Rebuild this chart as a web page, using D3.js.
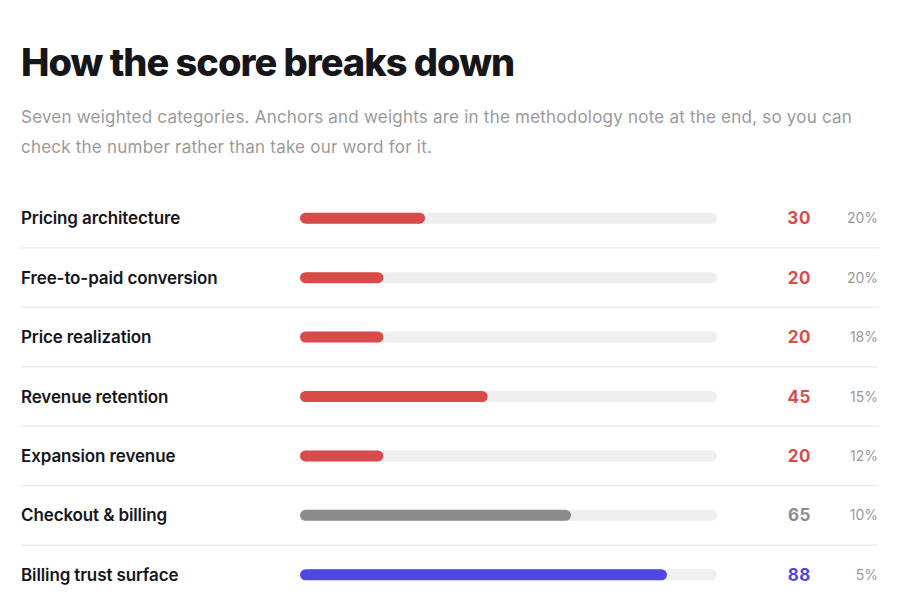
<!DOCTYPE html>
<html><head><meta charset="utf-8">
<script src="https://cdn.jsdelivr.net/npm/d3@7/dist/d3.min.js"></script>
<style>
html,body{margin:0;padding:0;background:#fff;}
svg{display:block;font-family:Inter,"Noto Sans",sans-serif;}
</style></head>
<body>
<svg id="chart" width="900" height="597"></svg>
<script>
const title = "How the score breaks down";
const subtitleLines = ["Seven weighted categories. Anchors and weights are in the methodology note at the end, so you can", "check the number rather than take our word for it."];
const categories = ["Pricing architecture","Free-to-paid conversion","Price realization","Revenue retention","Expansion revenue","Checkout & billing","Billing trust surface"];
const scores = [30,20,20,45,20,65,88];
const weights = ["20%","20%","18%","15%","12%","10%","5%"];

const svg = d3.select("#chart");
const left = 21, right = 879;
const colorFor = v => v >= 80 ? "#4f46e5" : (v >= 50 ? "#8c8c8c" : "#d94b4b");

svg.append("text").attr("x", left).attr("y", 76)
  .attr("font-size", 38).attr("font-weight", 800).attr("fill", "#16161a")
  .attr("letter-spacing", "-1.0").text(title);

svg.selectAll("text.sub").data(subtitleLines).join("text").attr("class","sub")
  .attr("x", left).attr("y", (d,i) => 123 + i*29.5)
  .attr("font-size", 17).attr("fill", "#9a9a9a").attr("letter-spacing", "0.22").text(d => d);

const y = d3.scaleBand().domain(categories).range([188.5, 604.5]).paddingInner(0).paddingOuter(0);
const x = d3.scaleLinear().domain([0,100]).range([300, 717]);
const barH = 11;

const rows = svg.selectAll("g.row").data(categories).join("g").attr("class","row")
  .attr("transform", d => `translate(0,${y(d) + y.bandwidth()/2})`);

rows.filter((d,i) => i > 0).append("line")
  .attr("x1", left).attr("x2", right)
  .attr("y1", -y.bandwidth()/2).attr("y2", -y.bandwidth()/2)
  .attr("stroke", "#ebebeb").attr("stroke-width", 1.2);

rows.append("text").attr("x", left).attr("y", 6)
  .attr("font-size", 17).attr("font-weight", 600).attr("letter-spacing", "-0.12")
  .attr("fill", "#16161a").text(d => d);

rows.append("rect").attr("x", x(0)).attr("y", -barH/2).attr("width", x(100)-x(0)).attr("height", barH)
  .attr("rx", barH/2).attr("fill", "#efefef");

rows.append("rect").attr("x", x(0)).attr("y", -barH/2)
  .attr("width", (d,i) => x(scores[i]) - x(0)).attr("height", barH)
  .attr("rx", barH/2).attr("fill", (d,i) => colorFor(scores[i]));

rows.append("text").attr("x", 811).attr("y", 6).attr("text-anchor","end")
  .attr("font-size", 17).attr("font-weight", 700).attr("letter-spacing", "0.6")
  .attr("fill", (d,i) => colorFor(scores[i])).text((d,i) => scores[i]);

rows.append("text").attr("x", 878).attr("y", 5).attr("text-anchor","end")
  .attr("font-size", 14).attr("fill", "#9a9a9a").text((d,i) => weights[i]);
</script>
</body></html>
